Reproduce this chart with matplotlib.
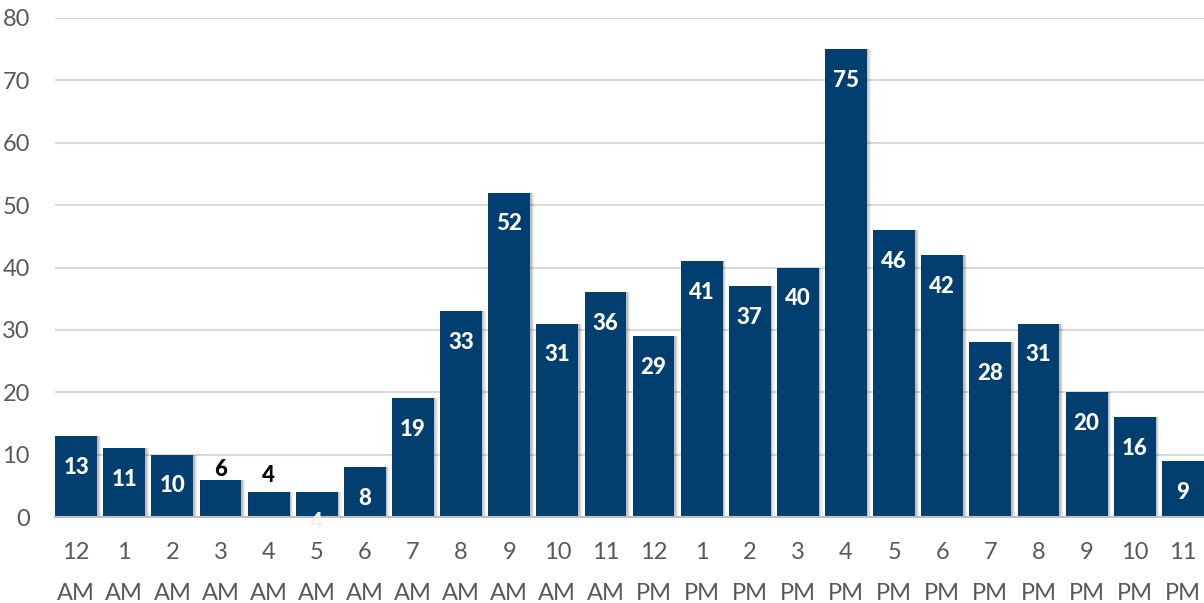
import matplotlib.pyplot as plt
import numpy as np

# hours of the day and counts per hour
hours = ['12', '1', '2', '3', '4', '5', '6', '7', '8', '9', '10', '11',
         '12', '1', '2', '3', '4', '5', '6', '7', '8', '9', '10', '11']
periods = ['AM'] * 12 + ['PM'] * 12
counts = [13, 11, 10, 6, 4, 4, 8, 19, 33, 52, 31, 36,
          29, 41, 37, 40, 75, 46, 42, 28, 31, 20, 16, 9]

bar_color = '#023f71'
grey = '#595959'

plt.rcParams['font.family'] = ['Lato', 'DejaVu Sans']

fig = plt.figure(figsize=(12.04, 6.03), dpi=100)
ax = fig.add_axes([55 / 1204, 86 / 603, 1 - 55 / 1204, 499 / 603])

x = np.arange(len(counts))
width = 0.87

# soft drop shadow behind the bars
for dx, a in [(0.08, 0.06), (0.055, 0.09), (0.03, 0.12)]:
    ax.bar(x + dx, counts, width=width, color='#000000', alpha=a, zorder=2,
           linewidth=0)
ax.bar(x, counts, width=width, color=bar_color, zorder=3, linewidth=0)

# value labels
for i, v in enumerate(counts):
    if i in (3, 4):
        off = 7 if i == 3 else 12
        ax.annotate(str(v), (i, v), xytext=(0, off), textcoords='offset points',
                    ha='center', va='center', fontsize=16, fontweight='black',
                    color='black', zorder=5)
    elif i == 5:
        ax.annotate(str(v), (i, 0), xytext=(0, -4), textcoords='offset points',
                    ha='center', va='center', fontsize=16, fontweight='black',
                    color='#f2f2f2', zorder=5)
    else:
        ax.annotate(str(v), (i, v), xytext=(0, -22.5), textcoords='offset points',
                    ha='center', va='center', fontsize=16, fontweight='black',
                    color='white', zorder=5)

ax.set_xlim(-0.44, 23.44)
ax.set_ylim(0, 80)
ax.set_yticks(range(0, 81, 10))
ax.yaxis.grid(True, color='#d9d9d9', linewidth=1.5, zorder=0)
ax.set_axisbelow(True)

ax.set_xticks(x)
ax.set_xticklabels([f'{h}\n{p}' for h, p in zip(hours, periods)],
                   linespacing=2.15)
ax.tick_params(axis='x', length=0, pad=18, labelsize=17, labelcolor=grey)
ax.tick_params(axis='y', length=0, pad=18, labelsize=17, labelcolor=grey)

for s in ['top', 'right', 'left']:
    ax.spines[s].set_visible(False)
ax.spines['bottom'].set_color('#bfbfbf')
ax.spines['bottom'].set_linewidth(1.5)
ax.spines['bottom'].set_zorder(4)

fig.savefig('out.png', dpi=100)
